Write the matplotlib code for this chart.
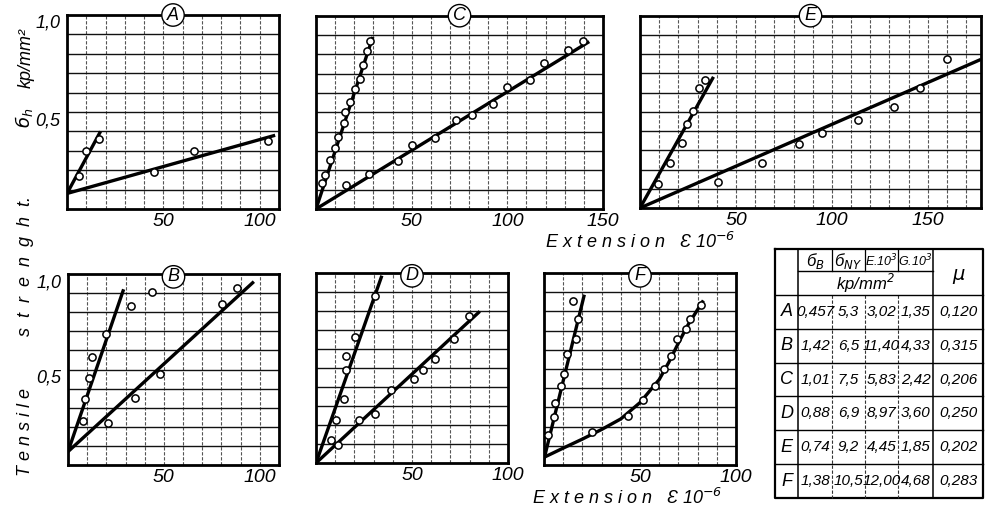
import matplotlib
matplotlib.use('Agg')
import matplotlib.pyplot as plt

FONT = ['Liberation Sans Narrow', 'Liberation Sans', 'DejaVu Sans']
plt.rcParams['font.family'] = FONT
plt.rcParams['font.style'] = 'italic'
plt.rcParams['mathtext.fontset'] = 'custom'
plt.rcParams['mathtext.rm'] = 'Liberation Sans Narrow:italic'
plt.rcParams['mathtext.it'] = 'Liberation Sans Narrow:italic'

W, H = 987, 512

# ---------------- data ----------------
A_pts1_x = [6.0, 9.7, 16.4]
A_pts1_y = [0.17, 0.30, 0.36]
A_pts2_x = [45.0, 65.7, 104.5]
A_pts2_y = [0.19, 0.30, 0.35]
A_line1_x = [0, 17.4]
A_line1_y = [0.08, 0.40]
A_line2_x = [0, 108]
A_line2_y = [0.08, 0.38]

C_pts1_x = [3.1, 4.9, 7.5, 10.1, 11.3, 14.4, 15.3, 17.9, 20.5, 22.8, 24.5, 26.6, 28.0]
C_pts1_y = [0.134, 0.174, 0.251, 0.315, 0.372, 0.444, 0.504, 0.552, 0.620, 0.673, 0.745, 0.819, 0.869]
C_pts2_x = [15.7, 27.5, 43.1, 50.1, 62.3, 73.0, 81.4, 92.7, 99.7, 111.8, 119.3, 131.5, 139.3]
C_pts2_y = [0.122, 0.181, 0.250, 0.332, 0.367, 0.458, 0.484, 0.544, 0.633, 0.668, 0.757, 0.823, 0.871]
C_line1_x = [0, 29.7]
C_line1_y = [0.0, 0.89]
C_line2_x = [0, 142.8]
C_line2_y = [0.0, 0.866]

E_pts1_x = [9.6, 15.7, 21.7, 24.3, 27.5, 31.0, 33.9]
E_pts1_y = [0.123, 0.236, 0.340, 0.439, 0.503, 0.625, 0.665]
E_pts2_x = [40.5, 63.8, 83.0, 95.1, 113.4, 132.2, 146.1, 160.0]
E_pts2_y = [0.135, 0.236, 0.335, 0.392, 0.457, 0.523, 0.622, 0.773]
E_line1_x = [0, 38.3]
E_line1_y = [0.0, 0.682]
E_line2_x = [0, 177.7]
E_line2_y = [0.0, 0.773]

B_pts1_x = [7.8, 9.0, 11.0, 12.7, 19.7, 33.0, 43.8]
B_pts1_y = [0.232, 0.346, 0.457, 0.564, 0.686, 0.832, 0.907]
B_pts2_x = [20.9, 34.8, 47.8, 80.5, 88.2]
B_pts2_y = [0.218, 0.353, 0.476, 0.841, 0.925]
B_line1_x = [0, 29.0]
B_line1_y = [0.07, 0.92]
B_line2_x = [0, 96.9]
B_line2_y = [0.07, 0.96]

D_pts1_x = [8.0, 10.6, 14.7, 15.6, 15.6, 20.1, 30.8]
D_pts1_y = [0.123, 0.225, 0.337, 0.488, 0.565, 0.661, 0.877]
D_pts2_x = [11.4, 22.5, 30.8, 39.1, 51.0, 55.5, 61.9, 72.0, 79.8]
D_pts2_y = [0.093, 0.228, 0.258, 0.386, 0.442, 0.488, 0.549, 0.653, 0.775]
D_line1_x = [0, 34.3]
D_line1_y = [0.0, 0.986]
D_line2_x = [0, 85.3]
D_line2_y = [0.0, 0.798]

F_pts1_x = [2.3, 5.2, 5.7, 8.9, 10.6, 12.2, 16.5, 17.6, 15.3]
F_pts1_y = [0.157, 0.252, 0.322, 0.409, 0.473, 0.577, 0.657, 0.760, 0.856]
F_pts2_x = [25.2, 44.0, 51.5, 57.9, 62.6, 66.1, 69.2, 73.9, 76.2, 81.9]
F_pts2_y = [0.174, 0.256, 0.339, 0.412, 0.501, 0.569, 0.657, 0.710, 0.762, 0.831]
F_line1_x = [0, 21.0]
F_line1_y = [0.03, 0.887]
F_line2_x = [0, 10, 20, 30, 40, 50, 60, 65, 70, 75, 83]
F_line2_y = [0.04, 0.088, 0.135, 0.185, 0.24, 0.325, 0.445, 0.535, 0.635, 0.73, 0.857]

panel_names = ['A', 'C', 'E', 'B', 'D', 'F']
x_limits = [110, 150, 177.7, 110, 100, 100]
x_ticks = [[50, 100], [50, 100, 150], [50, 100, 150], [50, 100], [50, 100], [50, 100]]
y_ticks = [0.5, 1.0]
y_tick_labels = ['0,5', '1,0']

# table
tab_rows = ['A', 'B', 'C', 'D', 'E', 'F']
sigma_B = ['0,457', '1,42', '1,01', '0,88', '0,74', '1,38']
sigma_NY = ['5,3', '6,5', '7,5', '6,9', '9,2', '10,5']
E_mod = ['3,02', '11,40', '5,83', '8,97', '4,45', '12,00']
G_mod = ['1,35', '4,33', '2,42', '3,60', '1,85', '4,68']
mu = ['0,120', '0,315', '0,206', '0,250', '0,202', '0,283']

# ---------------- layout ----------------
boxes = {  # pixel boxes: left, top, right, bottom
    'A': (67, 15, 279, 209),
    'C': (316, 15.7, 603, 209),
    'E': (640, 15.7, 981, 208),
    'B': (68, 274, 279, 465),
    'D': (316, 273, 508, 463),
    'F': (544, 273, 736, 465),
}
series = {
    'A': (A_pts1_x, A_pts1_y, A_pts2_x, A_pts2_y, A_line1_x, A_line1_y, A_line2_x, A_line2_y),
    'C': (C_pts1_x, C_pts1_y, C_pts2_x, C_pts2_y, C_line1_x, C_line1_y, C_line2_x, C_line2_y),
    'E': (E_pts1_x, E_pts1_y, E_pts2_x, E_pts2_y, E_line1_x, E_line1_y, E_line2_x, E_line2_y),
    'B': (B_pts1_x, B_pts1_y, B_pts2_x, B_pts2_y, B_line1_x, B_line1_y, B_line2_x, B_line2_y),
    'D': (D_pts1_x, D_pts1_y, D_pts2_x, D_pts2_y, D_line1_x, D_line1_y, D_line2_x, D_line2_y),
    'F': (F_pts1_x, F_pts1_y, F_pts2_x, F_pts2_y, F_line1_x, F_line1_y, F_line2_x, F_line2_y),
}

fig = plt.figure(figsize=(W / 100, H / 100), dpi=100)
fig.patch.set_facecolor('white')

for name, xmax, xt in zip(panel_names, x_limits, x_ticks):
    l, t, r, b = boxes[name]
    ax = fig.add_axes([l / W, 1 - b / H, (r - l) / W, (b - t) / H])
    ax.set_xlim(0, xmax)
    ax.set_ylim(0, 1.0)
    for gx in range(10, int(xmax) + 1, 10):
        if gx < xmax - 0.5:
            ax.axvline(gx, color='#555555', lw=0.8, ls=(0, (3, 1.5)), zorder=1)
    for gy in [0.1 * k for k in range(1, 10)]:
        ax.axhline(gy, color='#111111', lw=1.0, zorder=1)
    p1x, p1y, p2x, p2y, l1x, l1y, l2x, l2y = series[name]
    ax.plot(l1x, l1y, color='black', lw=2.4, zorder=3, solid_capstyle='butt')
    ax.plot(l2x, l2y, color='black', lw=2.4, zorder=3, solid_capstyle='butt')
    ax.plot(p1x, p1y, 'o', ms=5.2, mfc='white', mec='black', mew=1.1, zorder=4)
    ax.plot(p2x, p2y, 'o', ms=5.2, mfc='white', mec='black', mew=1.1, zorder=4)
    for s in ax.spines.values():
        s.set_linewidth(2.0)
    ax.set_xticks(xt)
    ax.set_xticklabels([str(v) for v in xt], fontsize=14, style='italic')
    ax.tick_params(axis='x', length=0, pad=3)
    ax.tick_params(axis='y', length=0, pad=5)
    if name in ('A', 'B'):
        ax.set_yticks(y_ticks)
        ax.set_yticklabels(y_tick_labels, fontsize=13, style='italic', va='top')
    else:
        ax.set_yticks([])
    ax.text(0.5, 1.0 if name in ('A', 'C', 'E') else 0.985, name, transform=ax.transAxes,
            ha='center', va='center', fontsize=13, style='italic', zorder=6,
            bbox=dict(boxstyle='circle,pad=0.15', fc='white', ec='black', lw=1.0),
            clip_on=False)

# overlay axes in pixel units (on top, transparent)
ov = fig.add_axes([0, 0, 1, 1], zorder=10)
ov.set_xlim(0, W)
ov.set_ylim(H, 0)
ov.axis('off')
ov.patch.set_alpha(0)

# axis labels
ov.text(26, 432, 'T e n s i l e', rotation=90, ha='center', va='center', fontsize=13, style='italic')
ov.text(26, 266, 's  t  r  e  n  g  h  t.', rotation=90, ha='center', va='center', fontsize=13, style='italic')
ov.text(24, 118, 'б$_h$', rotation=90, ha='center', va='center', fontsize=13, style='italic',
        family=['DejaVu Sans'])
ov.text(26, 58, 'kp/mm²', rotation=90, ha='center', va='center', fontsize=13, style='italic')
xlab = 'E x t e n s i o n   Ɛ 10$^{-6}$'
ov.text(545, 242, xlab, ha='left', va='center', fontsize=13, style='italic')
ov.text(532, 498, xlab, ha='left', va='center', fontsize=13, style='italic')

# table
cols = [775, 798, 832, 865, 898, 933, 983]
rows = [295, 329, 363, 396, 430, 464, 498]
top, mid = 249, 271
ov.plot([cols[0], cols[-1], cols[-1], cols[0], cols[0]], [top, top, rows[-1], rows[-1], top],
        color='black', lw=1.6)
ov.plot([cols[1], cols[1]], [top, rows[-1]], color='black', lw=1.1)
ov.plot([cols[5], cols[5]], [top, rows[-1]], color='black', lw=1.1)
ov.plot([cols[1], cols[5]], [mid, mid], color='black', lw=1.0)
for c in cols[2:5]:
    ov.plot([c, c], [top, mid], color='black', lw=0.9)
    ov.plot([c, c], [rows[0], rows[-1]], color='#333333', lw=0.8, ls=(0, (3, 1.5)))
for rr in rows[:-1]:
    ov.plot([cols[0], cols[-1]], [rr, rr], color='black', lw=1.0)
hdr = ['б$_B$', 'б$_{NY}$', 'E.10$^3$', 'G.10$^3$']
hdr_fs = [12, 12, 9, 9]
for i, (h, fs) in enumerate(zip(hdr, hdr_fs)):
    ov.text((cols[i + 1] + cols[i + 2]) / 2, (top + mid) / 2 + 1, h, ha='center', va='center',
            fontsize=fs, style='italic', family=FONT)
ov.text((cols[1] + cols[5]) / 2, (mid + rows[0]) / 2, 'kp/mm$^2$', ha='center', va='center',
        fontsize=12, style='italic')
ov.text((cols[5] + cols[6]) / 2, (top + rows[0]) / 2 + 2, 'μ', ha='center', va='center',
        fontsize=14, style='italic', family=['DejaVu Sans'])
for k, vals in enumerate(zip(tab_rows, sigma_B, sigma_NY, E_mod, G_mod, mu)):
    yc = (rows[k] + rows[k + 1]) / 2 if k + 1 < len(rows) else rows[k] + 17
    for j, v in enumerate(vals):
        ov.text((cols[j] + cols[j + 1]) / 2, yc, v, ha='center', va='center',
                fontsize=11 if j > 0 else 13, style='italic')

fig.savefig('out.png', dpi=100, facecolor='white')
